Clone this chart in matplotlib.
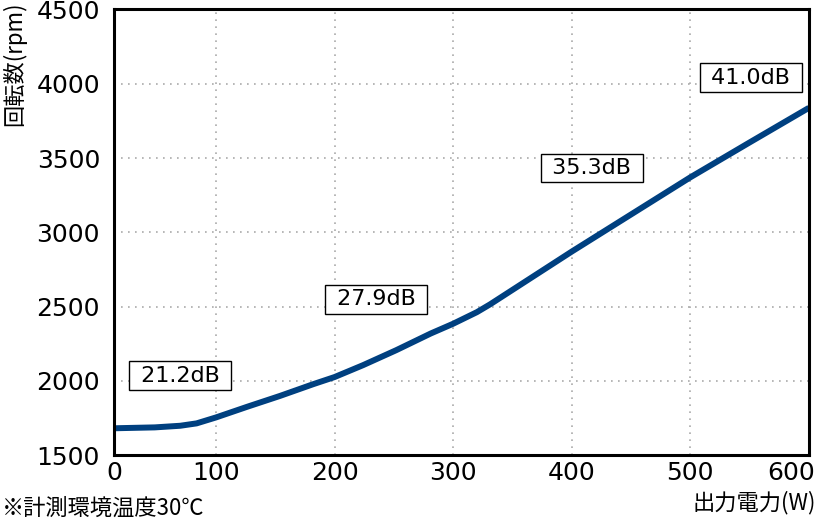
import matplotlib
matplotlib.use("Agg")
import matplotlib.pyplot as plt
import matplotlib.transforms as mtransforms
import numpy as np

plt.rcParams['font.family'] = ['DejaVu Sans', 'Noto Sans CJK JP']

power_w = [0, 40, 65, 81, 100, 126, 154, 182, 200, 224, 252, 281, 300, 320, 331,
           400, 446, 500, 550, 600]
rpm = [1680, 1686, 1697, 1713, 1753, 1824, 1898, 1977, 2025, 2105, 2206, 2318, 2384,
       2462, 2514, 2870, 3100, 3370, 3605, 3838]

label_texts = ["21.2dB", "27.9dB", "35.3dB", "41.0dB"]
label_x = [65, 235, 417, 551]
label_y = [2034, 2550, 3433, 4040]

xticks = [0, 100, 200, 300, 400, 500, 600]
yticks = [1500, 2000, 2500, 3000, 3500, 4000, 4500]

# x axis: first segment (0-100) drawn narrower than the others
K = 0.86


def fwd(x):
    x = np.asarray(x, dtype=float)
    return np.where(x < 100, x * K, 100 * K + (x - 100))


def inv(u):
    u = np.asarray(u, dtype=float)
    return np.where(u < 100 * K, u / K, u - 100 * K + 100)


fig = plt.figure(figsize=(8.18, 5.19), dpi=100)
ax = fig.add_axes([0.13936, 0.1233, 0.8496, 0.8584])
ax.set_xscale('function', functions=(fwd, inv))

ax.plot(power_w, rpm, color='#004080', linewidth=4.3, solid_joinstyle='round',
        solid_capstyle='butt', zorder=3)

ax.set_xlim(0, 600)
ax.set_ylim(1500, 4500)
ax.set_xticks(xticks)
ax.set_xticklabels([str(v) for v in xticks])
ax.set_yticks(yticks)
ax.tick_params(axis='x', length=0, labelsize=18, pad=4)
ax.tick_params(axis='y', length=0, labelsize=18, pad=10)
ax.grid(True, linestyle=(0, (1, 3.2)), color='#aaaaaa', linewidth=1.2)
for s in ax.spines.values():
    s.set_linewidth(2.2)
    s.set_color('black')
    s.set_zorder(5)

# last x tick label pulled inside the figure
labs = ax.get_xticklabels()
labs[-1].set_horizontalalignment('right')
labs[-1].set_transform(labs[-1].get_transform() +
                       mtransforms.ScaledTranslation(6 / 100, 0, fig.dpi_scale_trans))

for t, x, y in zip(label_texts, label_x, label_y):
    ax.text(x, y, ' ' + t + ' ', ha='center', va='center', fontsize=16, zorder=4,
            bbox=dict(boxstyle='square,pad=0.2', facecolor='white',
                      edgecolor='black', linewidth=1.0))

cjk = ['Noto Sans CJK JP', 'DejaVu Sans']
fig.text(0.003, 0.998, '回転数(rpm)', rotation=90, ha='left', va='top',
         fontsize=16, family=cjk)
fig.text(0.998, 0.008, '出力電力(W)', ha='right', va='bottom', fontsize=16, family=cjk)
fig.text(0.002, -0.002, '※計測環境温度30℃', ha='left', va='bottom', fontsize=16, family=cjk)

fig.savefig('out.png', dpi=100)
